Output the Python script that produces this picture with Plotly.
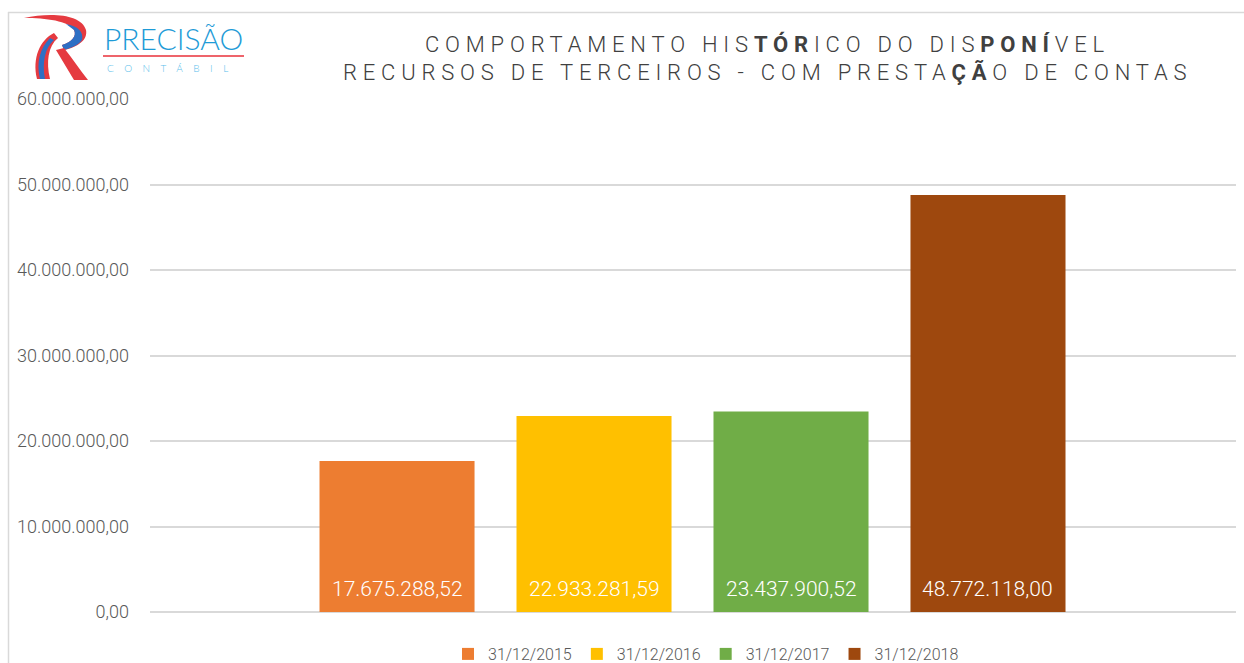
import plotly.graph_objects as go

# ---- data ----
series_names = ["31/12/2015", "31/12/2016", "31/12/2017", "31/12/2018"]
values = [17675288.52, 22933281.59, 23437900.52, 48772118.00]
colors = ["#ED7D31", "#FFC000", "#70AD47", "#9E480E"]
tick_vals = [0, 10000000, 20000000, 30000000, 40000000, 50000000, 60000000]

W, H = 1244, 663
L, R, T, B = 150, 1236, 99, 612  # plot area in pixels


def br_fmt(v):
    s = f"{v:,.2f}"
    return s.replace(",", "X").replace(".", ",").replace("X", ".")


def px(x):
    return (x - L) / (R - L)


def py(y):
    return (B - y) / (B - T)


fig = go.Figure()
for i, (name, v, c) in enumerate(zip(series_names, values, colors)):
    fig.add_trace(go.Bar(
        x=[i], y=[v], name=name, marker=dict(color=c, line=dict(width=0)),
        width=0.787, hoverinfo="y",
    ))

annotations = []
for i, v in enumerate(values):
    annotations.append(dict(
        x=i, y=0, xref="x", yref="y", text=br_fmt(v), showarrow=False,
        yanchor="bottom", yshift=9,
        font=dict(family="Roboto", size=21, color="#FFFFFF", weight=300),
    ))

title_style = "letter-spacing:5.8px"
line1 = ("<span style='%s'>COMPORTAMENTO HIS<b>TÓR</b>ICO DO DIS<b>PONÍ</b>VEL</span>" % title_style)
line2 = ("<span style='%s'>RECURSOS DE TERCEIROS - COM PRESTA<b>ÇÃ</b>O DE CONTAS</span>" % title_style)
for txt, yy in [(line1, 44), (line2, 72)]:
    annotations.append(dict(
        x=px(767), y=py(yy), xref="paper", yref="paper", text=txt, showarrow=False,
        xanchor="center", yanchor="middle",
        font=dict(family="Roboto, sans-serif", size=22, color="#404040", weight=300),
    ))

# logo text
annotations.append(dict(
    x=px(173), y=py(38), xref="paper", yref="paper", text="PRECISÃO", showarrow=False,
    xanchor="center", yanchor="middle",
    font=dict(family="Lato, Open Sans, sans-serif", size=30, color="#1E9BD7", weight=300),
))
annotations.append(dict(
    x=px(173), y=py(68), xref="paper", yref="paper",
    text="<span style='letter-spacing:10.5px'>CONTÁBIL</span>", showarrow=False,
    xanchor="center", yanchor="middle",
    font=dict(family="Lato, Open Sans, sans-serif", size=10, color="#5BC0EB", weight=300),
))

shapes = []
# chart frame (top + left border)
shapes.append(dict(type="line", xref="paper", yref="paper", x0=px(8), x1=px(1244), y0=py(12.5), y1=py(12.5),
                   line=dict(color="#D9D9D9", width=1.5)))
shapes.append(dict(type="line", xref="paper", yref="paper", x0=px(8.5), x1=px(8.5), y0=py(12), y1=py(663),
                   line=dict(color="#D9D9D9", width=1.5)))
# red underline of logo
shapes.append(dict(type="line", xref="paper", yref="paper", x0=px(103), x1=px(244), y0=py(56), y1=py(56),
                   line=dict(color="#E8303A", width=1.5)))


def path(points_cmds):
    out = []
    for cmd, pts in points_cmds:
        coords = [f"{px(x):.5f},{py(y):.5f}" for (x, y) in pts]
        out.append(cmd + " " + " ".join(coords))
    return " ".join(out) + " Z"


# logo icon (approximation)
icon_top = path([("M", [(24, 18)]), ("C", [(50, 12), (82, 14), (86, 30)]),
                 ("C", [(88, 40), (78, 47), (64, 50)]), ("L", [(62, 45)]),
                 ("C", [(72, 42), (77, 36), (74, 30)]), ("C", [(69, 21), (46, 18), (24, 18)])])
icon_top_blue = path([("M", [(66, 24)]), ("C", [(78, 26), (84, 32), (82, 40)]),
                      ("C", [(78, 46), (70, 48), (64, 50)]), ("L", [(62, 45)]),
                      ("C", [(72, 42), (77, 36), (74, 30)]), ("L", [(66, 24)])])
icon_stem = path([("M", [(54, 33)]), ("C", [(40, 40), (32, 58), (37, 79)]), ("L", [(50, 79)]),
                  ("C", [(46, 62), (48, 46), (58, 38)])])
icon_stem_blue = path([("M", [(50, 38)]), ("C", [(40, 48), (36, 62), (40, 79)]), ("L", [(45, 79)]),
                       ("C", [(42, 62), (45, 48), (54, 40)])])
icon_leg = path([("M", [(56, 50)]), ("C", [(62, 60), (68, 70), (74, 80)]), ("L", [(88, 80)]),
                 ("C", [(80, 70), (72, 58), (64, 48)])])
shapes += [
    dict(type="path", xref="paper", yref="paper", path=icon_top, fillcolor="#E53A40", line=dict(width=0)),
    dict(type="path", xref="paper", yref="paper", path=icon_top_blue, fillcolor="#2E6FC4", line=dict(width=0)),
    dict(type="path", xref="paper", yref="paper", path=icon_stem, fillcolor="#E53A40", line=dict(width=0)),
    dict(type="path", xref="paper", yref="paper", path=icon_stem_blue, fillcolor="#2E6FC4", line=dict(width=0)),
    dict(type="path", xref="paper", yref="paper", path=icon_leg, fillcolor="#E53A40", line=dict(width=0)),
]

fig.update_layout(
    width=W, height=H, autosize=False,
    margin=dict(l=L, r=W - R, t=T, b=H - B, pad=0, autoexpand=False),
    paper_bgcolor="white", plot_bgcolor="white",
    separators=",.",
    showlegend=True,
    legend=dict(orientation="h", x=px(706), xanchor="center", y=py(654), yanchor="middle",
                font=dict(family="Roboto", size=16, color="#595959", weight=300),
                itemwidth=30, tracegroupgap=0, bgcolor="rgba(0,0,0,0)"),
    xaxis=dict(range=[-1.254, 4.259], showticklabels=False, showgrid=False, zeroline=False,
               showline=False, ticks="", fixedrange=True),
    yaxis=dict(range=[0, 60000000], tickvals=tick_vals, tickformat=",.2f",
               showgrid=True, gridcolor="#D9D9D9", gridwidth=1.5, zeroline=True, zerolinecolor="#D9D9D9",
               zerolinewidth=1.5, showline=False, ticks="", ticklabelstandoff=20,
               tickfont=dict(family="Roboto", size=18, color="#595959", weight=300), fixedrange=True),
    annotations=annotations,
    shapes=shapes,
)

fig.write_html("out.html", config={"displayModeBar": False},
               post_script="document.body.style.margin='0';document.body.style.overflow='hidden';")
